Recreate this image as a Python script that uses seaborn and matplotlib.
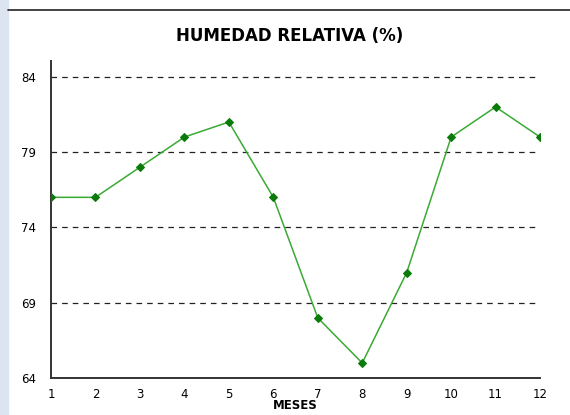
import matplotlib
matplotlib.use("Agg")
import matplotlib.pyplot as plt
from matplotlib.lines import Line2D
from matplotlib.patches import Rectangle
import seaborn as sns
import pandas as pd

meses = [1, 2, 3, 4, 5, 6, 7, 8, 9, 10, 11, 12]
humedad = [76, 76, 78, 80, 81, 76, 68, 65, 71, 80, 82, 80]
y_ticks = [64, 69, 74, 79, 84]

df = pd.DataFrame({"mes": meses, "hr": humedad})

sns.set_style("white")
plt.rcParams['font.family'] = ['DejaVu Sans']
plt.rcParams['text.color'] = "black"
plt.rcParams['axes.labelcolor'] = "black"

fig = plt.figure(figsize=(5.7, 4.15), dpi=100)
ax = fig.add_axes([0.0895, 0.089, 0.858, 0.764])

# marco de la pagina
fig.add_artist(Rectangle((0, 0), 8 / 570, 1, transform=fig.transFigure,
                         color="#dbe4f0", zorder=0))
fig.add_artist(Line2D([8 / 570, 1], [1 - 10 / 415, 1 - 10 / 415],
                      transform=fig.transFigure, color="#222222", lw=1.2))

for v in y_ticks[1:]:
    ax.axhline(v, color="#222222", lw=0.9, ls=(0, (4.5, 4)), zorder=1)

sns.lineplot(data=df, x="mes", y="hr", ax=ax, color="#3aaa35", lw=1.1,
             marker="D", markersize=4.5, markerfacecolor="#0a7a0a",
             markeredgecolor="#0a7a0a", zorder=3)

ax.set_xlim(1, 12)
ax.set_ylim(64, 85.05)
ax.set_xticks(meses)
ax.set_yticks(y_ticks)
ax.tick_params(axis="both", direction="inout", width=1.2,
               color="#333333", labelsize=8.5, labelcolor="black")
ax.tick_params(axis="y", length=10, pad=6)
ax.tick_params(axis="x", length=6, pad=4)
for s in ["top", "right"]:
    ax.spines[s].set_visible(False)
for s in ["left", "bottom"]:
    ax.spines[s].set_color("#333333")
    ax.spines[s].set_linewidth(1.4)

ax.set_xlabel("MESES", fontsize=8.5, fontweight="bold", labelpad=-1)
ax.set_ylabel("")
fig.text(290 / 570, 1 - 36 / 415, "HUMEDAD RELATIVA (%)", ha="center", va="center",
         fontsize=12, fontweight="bold")

fig.savefig("out.png", dpi=100)
